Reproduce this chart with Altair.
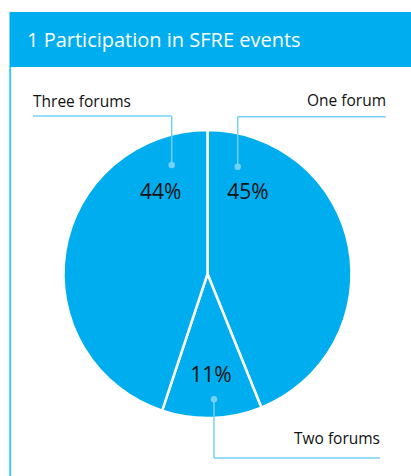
import altair as alt
import pandas as pd

# ---- data ----
categories = ["One forum", "Two forums", "Three forums"]
# slice sizes as drawn in the picture (the printed labels are rounded)
shares = [43.9, 11.2, 44.9]
pct_labels = ["45%", "11%", "44%"]
title_text = "1 Participation in SFRE events"

# ---- layout (pixels) ----
W, H = 411, 476
CX, CY, R = 207.5, 274, 144
BLUE = "#00AEEF"
LIGHT = "#74d1f6"
FONT = "Open Sans"

dot_x = [237.7, 214.0, 171.7]
dot_y = [166.7, 399.3, 165.0]
elbow_y = [116.7, 458.0, 116.0]
end_x = [385.7, 380.0, 33.0]
name_x = [386.0, 380.0, 33.0]
name_y = [105.5, 444.3, 107.0]
name_align = ["right", "right", "left"]
pct_x = [248.0, 211.0, 160.7]
pct_y = [199.0, 382.3, 198.7]

xs = alt.Scale(domain=[0, W], nice=False, zero=False)
ys = alt.Scale(domain=[0, H], reverse=True, nice=False, zero=False)

pie_df = pd.DataFrame({"cat": categories, "share": shares, "idx": range(len(categories))})

pie = alt.Chart(pie_df).mark_arc(radius=R, stroke="white", strokeWidth=2.5, color=BLUE).encode(
    theta=alt.Theta("share:Q", stack=True),
    order=alt.Order("idx:Q"),
    x=alt.value(CX),
    y=alt.value(CY),
)

header_df = pd.DataFrame({"x": [9.5], "x2": [W], "y": [12], "y2": [67]})
header = alt.Chart(header_df).mark_rect(color=BLUE).encode(
    x=alt.X("x:Q", scale=xs, axis=None), x2="x2:Q",
    y=alt.Y("y:Q", scale=ys, axis=None), y2="y2:Q",
)

border_df = pd.DataFrame({"x": [10.2], "y": [67], "y2": [H]})
border = alt.Chart(border_df).mark_rule(color="#3cc8f5", strokeWidth=2).encode(
    x=alt.X("x:Q", scale=xs, axis=None),
    y=alt.Y("y:Q", scale=ys, axis=None), y2="y2:Q",
)

title_df = pd.DataFrame({"x": [27], "y": [46.5], "t": [title_text]})
title = alt.Chart(title_df).mark_text(align="left", baseline="alphabetic", font=FONT,
                                      fontSize=20, color="white").encode(
    x=alt.X("x:Q", scale=xs, axis=None), y=alt.Y("y:Q", scale=ys, axis=None), text="t:N")

seg_rows = []
for i in range(len(categories)):
    seg_rows.append({"x": dot_x[i], "y": dot_y[i], "x2": dot_x[i], "y2": elbow_y[i]})
    seg_rows.append({"x": dot_x[i], "y": elbow_y[i], "x2": end_x[i], "y2": elbow_y[i]})
seg_df = pd.DataFrame(seg_rows)
segs = alt.Chart(seg_df).mark_rule(color=LIGHT, strokeWidth=1.5).encode(
    x=alt.X("x:Q", scale=xs, axis=None), x2="x2:Q",
    y=alt.Y("y:Q", scale=ys, axis=None), y2="y2:Q",
)

dot_df = pd.DataFrame({"x": dot_x, "y": dot_y})
dots = alt.Chart(dot_df).mark_point(filled=True, size=42, color=LIGHT, opacity=1).encode(
    x=alt.X("x:Q", scale=xs, axis=None), y=alt.Y("y:Q", scale=ys, axis=None))

name_df = pd.DataFrame({"x": name_x, "y": name_y, "t": categories, "a": name_align})
names_r = alt.Chart(name_df[name_df.a == "right"]).mark_text(
    align="right", baseline="alphabetic", font=FONT, fontSize=15.5, color="#111111").encode(
    x=alt.X("x:Q", scale=xs, axis=None), y=alt.Y("y:Q", scale=ys, axis=None), text="t:N")
names_l = alt.Chart(name_df[name_df.a == "left"]).mark_text(
    align="left", baseline="alphabetic", font=FONT, fontSize=15.5, color="#111111").encode(
    x=alt.X("x:Q", scale=xs, axis=None), y=alt.Y("y:Q", scale=ys, axis=None), text="t:N")

pct_df = pd.DataFrame({"x": pct_x, "y": pct_y, "t": pct_labels})
pcts = alt.Chart(pct_df).mark_text(
    align="center", baseline="alphabetic", font=FONT, fontSize=21, color="#111111").encode(
    x=alt.X("x:Q", scale=xs, axis=None), y=alt.Y("y:Q", scale=ys, axis=None), text="t:N")

chart = alt.layer(header, border, title, pie, segs, dots, names_r, names_l, pcts).properties(
    width=W, height=H, padding=0, autosize=alt.AutoSizeParams(type="none"), background="white"
).configure_view(stroke=None)

chart.save("out.html", embed_options={"renderer": "svg", "actions": False})
